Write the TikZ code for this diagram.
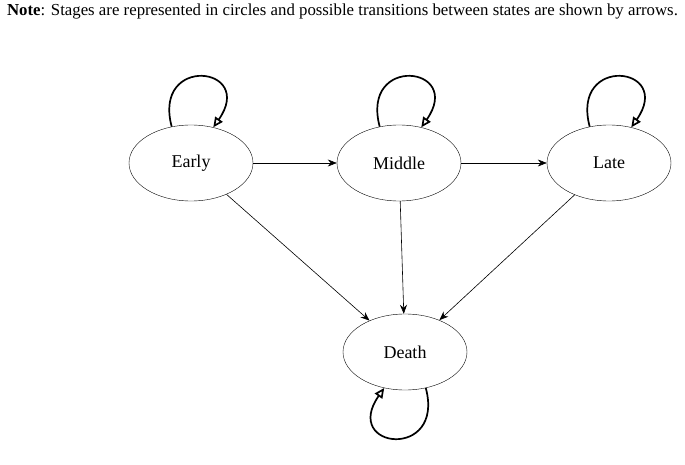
\documentclass[tikz,border=0pt]{standalone}
\usepackage{fontspec}
\setmainfont{Liberation Serif}
\usetikzlibrary{arrows.meta,shapes.geometric}
\begin{document}
\begin{tikzpicture}[x=1pt,y=-1pt]
	\tikzstyle{stage} = [ellipse, draw=black, minimum width=124pt, minimum height=76pt, font=\fontsize{18}{21}\selectfont]
	\tikzstyle{edge} = [-{Stealth[length=9pt,width=7pt]}, semithick]
	\tikzstyle{loopy} = [-{Triangle[open,length=10pt,width=9pt]}, line width=1.7pt]
	\useasboundingbox (0,0) rectangle (685,465);
	\node[anchor=north, inner sep=0pt](note) at (342.5,4){\fontsize{16.8}{19}\selectfont\textbf{Note}: Stages are represented in circles and possible transitions between states are shown by arrows.};
	\node[stage](early) at (191,163){Early};
	\node[stage](middle) at (399,163){Middle};
	\node[stage](late) at (609,163){Late};
	\node[stage](death) at (405,352){Death};
	\draw[edge](early) -- (middle);
	\draw[edge](middle) -- (late);
	\draw[edge](early) -- (death);
	\draw[edge](middle) -- (death);
	\draw[edge](late) -- (death);
	\draw[loopy](early.118) to[out=105,in=55,distance=75pt] (early.58);
	\draw[loopy](middle.118) to[out=105,in=55,distance=75pt] (middle.58);
	\draw[loopy](late.118) to[out=105,in=55,distance=75pt] (late.58);
	\draw[loopy](death.-60) to[out=-75,in=-125,distance=75pt] (death.-120);
\end{tikzpicture}
\end{document}
